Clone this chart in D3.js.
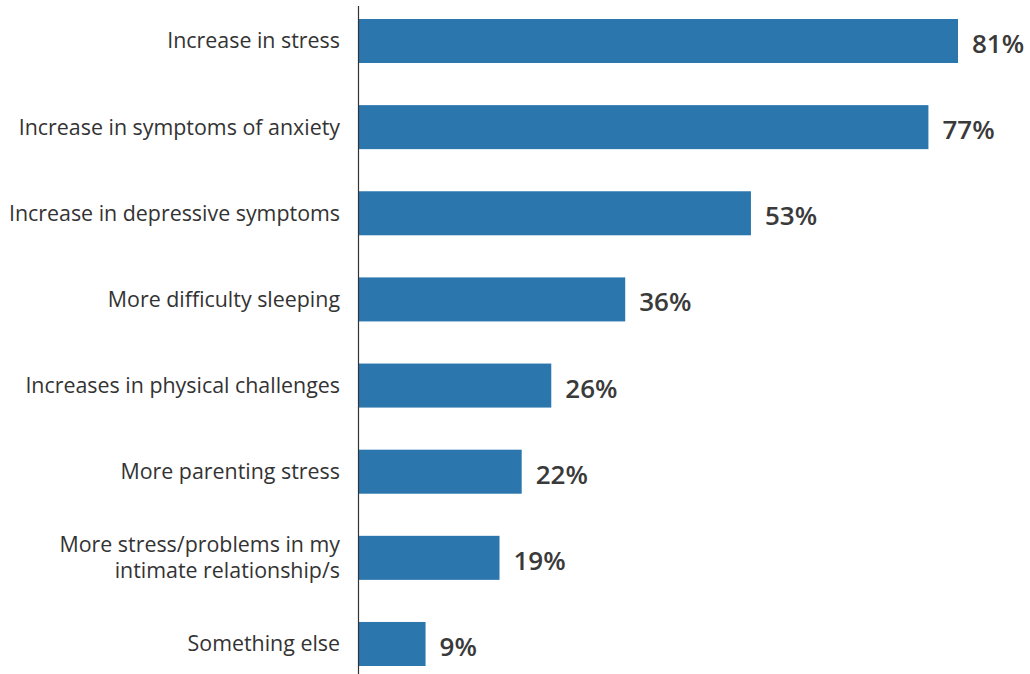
<!DOCTYPE html>
<html><head><meta charset="utf-8">
<script src="https://cdn.jsdelivr.net/npm/d3@7"></script>
<style>body{margin:0;background:#fff}svg{display:block}</style>
</head><body><svg id="c" width="1030" height="674"></svg>
<script>
const categories = [
  "Increase in stress",
  "Increase in symptoms of anxiety",
  "Increase in depressive symptoms",
  "More difficulty sleeping",
  "Increases in physical challenges",
  "More parenting stress",
  "More stress/problems in my\nintimate relationship/s",
  "Something else"
];
const values = [81, 77, 53, 36, 26, 22, 19, 9];
const valueLabels = ["81%", "77%", "53%", "36%", "26%", "22%", "19%", "9%"];

const svg = d3.select("#c");
const x = d3.scaleLinear().domain([0, 100]).range([359, 1098.5]);
const y = d3.scaleBand().domain(categories).range([-2.07, 687.05]).paddingInner(0.489).paddingOuter(0.2445);

svg.selectAll("rect.bar").data(values).join("rect")
  .attr("class", "bar")
  .attr("x", x(0))
  .attr("y", (d, i) => y(categories[i]))
  .attr("width", d => x(d) - x(0))
  .attr("height", y.bandwidth())
  .attr("fill", "#2a76ad");

svg.selectAll("text.val").data(values).join("text")
  .attr("class", "val")
  .attr("x", d => x(d) + 14)
  .attr("y", (d, i) => y(categories[i]) + y.bandwidth() / 2)
  .attr("dy", "0.46em")
  .attr("font-family", "Open Sans")
  .attr("font-weight", 600)
  .attr("font-size", 26)
  .attr("fill", "#3a3a3a")
  .text((d, i) => valueLabels[i]);

const lab = svg.selectAll("text.lab").data(categories).join("text")
  .attr("class", "lab")
  .attr("text-anchor", "end")
  .attr("font-family", "Open Sans")
  .attr("font-size", 21.4)
  .attr("fill", "#333");
lab.each(function(d) {
  const lines = d.split("\n");
  const cy = y(d) + y.bandwidth() / 2;
  const lh = 26;
  d3.select(this).selectAll("tspan").data(lines).join("tspan")
    .attr("x", 340)
    .attr("y", (l, j) => cy + (j - (lines.length - 1) / 2) * lh)
    .attr("dy", "0.35em")
    .text(l => l);
});

svg.append("line")
  .attr("x1", 358.5).attr("x2", 358.5)
  .attr("y1", 6).attr("y2", 674)
  .attr("stroke", "#333").attr("stroke-width", 1.2);
</script></body></html>
